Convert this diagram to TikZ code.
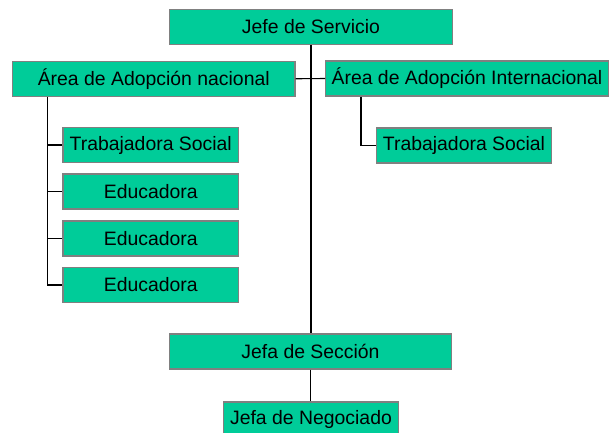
\documentclass[tikz,border=0pt]{standalone}
\usepackage{fontspec}
\setmainfont{Liberation Sans}
\definecolor{boxfill}{HTML}{00CC99}
\definecolor{boxline}{HTML}{808080}
\begin{document}
\begin{tikzpicture}[x=1pt,y=-1pt,
  box/.style={draw=boxline, line width=1.2pt, fill=boxfill, rectangle, inner sep=0pt,
    minimum height=35pt, font=\fontsize{19.4}{22}\selectfont, text=black},
  wide/.style={box, minimum width=282.5pt},
  narrow/.style={box, minimum width=175.5pt},
  link/.style={draw=black, line width=1.1pt}]
\useasboundingbox (0,0) rectangle (609,432);
\clip (0,0) rectangle (609,432);
\node[wide] (jefe) at (311,26.75) {Jefe de Servicio};
\node[wide] (nac) at (153.75,78.75) {Área de Adopción nacional};
\node[wide] (int) at (467,78.5) {Área de Adopción Internacional};
\node[narrow] (ts1) at (150.75,145) {Trabajadora Social};
\node[narrow] (ed1) at (150.75,191.5) {Educadora};
\node[narrow] (ed2) at (150.75,238.5) {Educadora};
\node[narrow] (ed3) at (150.75,285) {Educadora};
\node[narrow] (ts2) at (464,145.5) {Trabajadora Social};
\node[wide] (secc) at (310.5,351.5) {Jefa de Sección};
\node[narrow] (neg) at (311,419.5) {Jefa de Negociado};
\coordinate (lx) at (47.7,0);
\coordinate (rx) at (361,0);
\draw[link] (jefe.south) -- (jefe.south |- secc.north);
\draw[link] (nac.east) -- (int.west);
\draw[link] (lx |- nac.south) |- (ed3.west);
\draw[link] (lx |- ts1.west) -- (ts1.west);
\draw[link] (lx |- ed1.west) -- (ed1.west);
\draw[link] (lx |- ed2.west) -- (ed2.west);
\draw[link] (rx |- int.south) |- (ts2.west);
\draw[link] (secc.south) -- (secc.south |- neg.north);
\end{tikzpicture}
\end{document}
